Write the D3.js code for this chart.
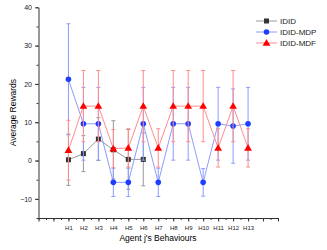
<!DOCTYPE html>
<meta charset="utf-8">
<script src="https://d3js.org/d3.v7.min.js"></script>
<style>
  body { margin: 0; background: #fff; }
  text { font-family: "Liberation Sans", Arial, sans-serif; }
</style>
<div id="my_dataviz"></div>
<script>

// data
var behaviours = ["H1","H2","H3","H4","H5","H6","H7","H8","H9","H10","H11","H12","H13"];

var ididMean = [0.2, 1.8, 5.6, 2.8, 0.3, 0.3];
var ididErr  = [6.7, 4.7, 5.6, 7.6, 7.8, 6.9];

var mdpMean = [21.2, 9.6, 9.6, -5.7, -5.7, 9.6, -5.7, 9.6, 9.6, -5.7, 9.6, 9.0, 9.6];
var mdpErr  = [14.5, 9.5, 9.5, 3.7, 3.7, 9.5, 3.7, 9.5, 9.5, 3.6, 9.5, 9.7, 9.5];

var mdfMean = [2.7, 14.2, 14.2, 3.1, 3.3, 14.2, 3.3, 14.2, 14.2, 14.2, 3.3, 14.2, 3.3];
var mdfErr  = [7.8, 9.3, 9.3, 5.0, 5.0, 9.3, 5.0, 9.3, 9.3, 9.3, 5.0, 9.3, 5.0];

var yTicks = [-10, 0, 10, 20, 30, 40];

var width = 327, height = 250;

var svg = d3.select("#my_dataviz")
  .append("svg")
    .attr("width", width)
    .attr("height", height);

var x = d3.scaleLinear().domain([-1, 15]).range([38.5, 278]);
var y = d3.scaleLinear().domain([-15, 40]).range([218, 7.3]);

// axes
var xMinor = d3.range(-1, 15.01, 0.5);
svg.append("g")
  .attr("transform", "translate(0," + y(-15) + ")")
  .call(d3.axisBottom(x).tickValues(xMinor).tickSize(2).tickFormat(""))
  .call(function(g) { g.select(".domain").remove(); });
svg.append("g")
  .attr("transform", "translate(0," + y(-15) + ")")
  .call(d3.axisBottom(x)
    .tickValues(d3.range(-1, 16))
    .tickSize(3.5)
    .tickPadding(4)
    .tickSizeOuter(0)
    .tickFormat(function(d) { return (d >= 1 && d <= 13) ? behaviours[d - 1] : ""; }))
  .call(function(g) {
    g.selectAll("text").attr("font-size", 6).attr("fill", "#222");
  });

svg.append("g")
  .attr("transform", "translate(" + x(-1) + ",0)")
  .call(d3.axisLeft(y).tickValues(d3.range(-15, 40.1, 5)).tickSize(2).tickFormat(""))
  .call(function(g) { g.select(".domain").remove(); });
svg.append("g")
  .attr("transform", "translate(" + x(-1) + ",0)")
  .call(d3.axisLeft(y).tickValues(yTicks).tickSize(3.5).tickPadding(3).tickSizeOuter(0))
  .call(function(g) {
    g.selectAll("text").attr("font-size", 7).attr("fill", "#222");
  });

svg.selectAll(".domain, .tick line").attr("stroke", "#333");

// axis titles
svg.append("text")
  .attr("x", 158).attr("y", 241)
  .attr("text-anchor", "middle")
  .attr("font-size", 8.5)
  .text("Agent j's Behaviours");

svg.append("text")
  .attr("transform", "translate(16," + y(12.5) + ") rotate(-90)")
  .attr("text-anchor", "middle")
  .attr("font-size", 8.5)
  .text("Average Rewards");

var series = [
  {name: "IDID", mean: ididMean, err: ididErr, line: "#999", err_c: "#999", mark: "#333", shape: "square"},
  {name: "IDID-MDP", mean: mdpMean, err: mdpErr, line: "#8c9cff", err_c: "#8c9cff", mark: "#1f3cff", shape: "circle"},
  {name: "IDID-MDF", mean: mdfMean, err: mdfErr, line: "#ff8c8c", err_c: "#ff8c8c", mark: "#ff0000", shape: "triangle"}
];

function drawMarker(g, s, cx, cy) {
  if (s.shape === "square") {
    g.append("rect").attr("x", cx - 2.5).attr("y", cy - 2.5)
      .attr("width", 5).attr("height", 5).attr("fill", s.mark);
  } else if (s.shape === "circle") {
    g.append("circle").attr("cx", cx).attr("cy", cy).attr("r", 2.8).attr("fill", s.mark);
  } else {
    g.append("path")
      .attr("d", d3.symbol().type(d3.symbolTriangle).size(26)())
      .attr("transform", "translate(" + cx + "," + (cy + 0.5) + ")")
      .attr("fill", s.mark);
  }
}

series.forEach(function(s) {
  var g = svg.append("g");
  var pts = s.mean.map(function(m, i) { return {i: i + 1, m: m, e: s.err[i]}; });

  // error bars
  pts.forEach(function(p) {
    g.append("line")
      .attr("x1", x(p.i)).attr("x2", x(p.i))
      .attr("y1", y(p.m - p.e)).attr("y2", y(p.m + p.e))
      .attr("stroke", s.err_c).attr("stroke-width", 1);
    [p.m - p.e, p.m + p.e].forEach(function(v) {
      g.append("line")
        .attr("x1", x(p.i) - 2).attr("x2", x(p.i) + 2)
        .attr("y1", y(v)).attr("y2", y(v))
        .attr("stroke", s.err_c).attr("stroke-width", 1);
    });
  });

  g.append("path")
    .datum(pts)
    .attr("fill", "none")
    .attr("stroke", s.line)
    .attr("stroke-width", 1)
    .attr("d", d3.line().x(function(d) { return x(d.i); }).y(function(d) { return y(d.m); }));

  pts.forEach(function(p) { drawMarker(g, s, x(p.i), y(p.m)); });
});

// legend
var legend = svg.append("g").attr("transform", "translate(256,21)");
series.forEach(function(s, k) {
  var row = legend.append("g").attr("transform", "translate(0," + (k * 11) + ")");
  row.append("line").attr("x1", 0).attr("x2", 21).attr("y1", 0).attr("y2", 0)
    .attr("stroke", s.line).attr("stroke-width", 1);
  drawMarker(row, s, 10.5, 0);
  row.append("text").attr("x", 24).attr("y", 3)
    .attr("font-size", 8).attr("fill", "#222").text(s.name);
});

</script>
